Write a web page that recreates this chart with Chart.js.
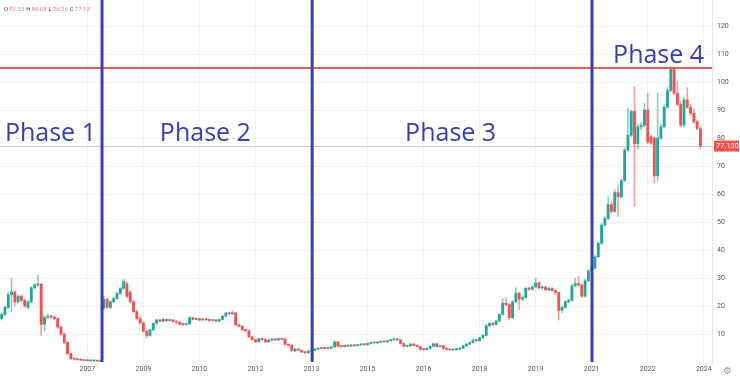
<!DOCTYPE html>
<html>
<head>
<meta charset="utf-8">
<script src="https://cdn.jsdelivr.net/npm/chart.js@4.4.1/dist/chart.umd.min.js"></script>
<style>
  html, body { margin: 0; padding: 0; background: #fff; }
  canvas { display: block; }
</style>
</head>
<body>
<canvas id="priceChart" width="740" height="381"></canvas>
<script>
"use strict";

// monthly candles (index 0 = first candle on the left)
var opens = [
  15.5,17,19.5,24,25,21.5,23.5,22,19.5,21.5,
  26.5,27.5,27.8,13.5,16,16.3,16,15.5,12.5,10,
  7,3,1.2,1,0.9,0.7,0.5,0.5,0.4,0.4,
  0.3,19.2,22.4,19.5,21.5,22.7,24.5,26.3,28,25,
  21.5,18,15.5,14,11,9.5,11.5,13.8,15,14.6,
  15.2,14.8,15,14.5,14.2,13.5,13.4,13.6,15.8,15.2,
  15.5,15,15.3,15.1,14.8,15,14.6,15.2,16.4,17.5,
  17.2,17.6,13.2,12.8,11.5,11.2,9,8,7.2,8.3,
  8,7.2,7.8,8.2,7.9,8.3,8.1,6.3,6,4,
  4.6,4.2,3.6,3.3,3.9,4.2,4.6,4.9,4.8,5.2,
  4.9,5.4,7.2,5.6,5.5,5.9,5.7,6,5.8,6.1,
  6.3,6.2,6.6,6.9,6.8,7.1,7.3,7.2,7.6,7.9,
  8.1,7.9,6.6,5.6,5.8,6.4,5.9,5.5,4.5,4.4,
  4.9,5.6,6.5,5.5,5.8,4.8,4.5,4.3,4.4,4.6,
  4.9,5.8,6.4,6.9,7.8,7.6,8.6,9.5,13,13.8,
  13.4,14.6,17,21,20.5,15.8,21.5,24.5,22.5,23,
  26.3,26,26.8,28.3,26.5,26.8,25.8,26.3,25.5,24.8,
  18.5,19.5,21.5,22,27.2,28,27.5,23.5,29,32.5,
  33.5,37.6,42.4,48.9,51.3,56.2,53.8,60.5,59,64.8,
  75.7,81,89.5,78,84,84.5,90,80.5,80,66.5,
  80,84,91,97,104.5,96,92,84.6,93.6,91,
  88.8,85.8,83.33
];
var closes = [
  17,19.5,24,25,21.5,23.5,22,20,21.5,26.5,
  27.5,27.8,13.5,16,16.3,16,15.5,12.5,10,7,
  3,1.2,1,0.9,0.7,0.5,0.5,0.4,0.4,0.3,
  0.3,22.4,19.5,21.5,22.7,24.5,26.3,28.7,23.5,21.5,
  18,15.5,14,11,9.5,11.5,13.8,15,14.6,15.2,
  14.8,15,14.5,14.2,13.5,13.4,13.6,15.8,15.2,15.5,
  15,15.3,15.1,14.8,15,14.6,15.2,16.4,17.5,17.2,
  17.6,13.2,12.8,11.5,11.2,9,8,7.2,8.3,8,
  7.2,7.8,8.2,7.9,8.3,8.1,6.3,6,4,4.6,
  4.2,3.6,3.3,3.9,4.2,4.6,4.9,4.8,5.2,4.9,
  5.4,7.2,5.6,5.5,5.9,5.7,6,5.8,6.1,6.3,
  6.2,6.6,6.9,6.8,7.1,7.3,7.2,7.6,7.9,8.1,
  7.9,6.6,5.6,5.8,6.4,5.9,5.5,4.5,4.4,4.9,
  5.6,6.5,5.5,5.8,4.8,4.5,4.3,4.4,4.6,4.9,
  5.8,6.4,6.9,7.8,7.6,8.6,9.5,13,13.8,13.4,
  14.6,17,21,20.5,15.8,21.5,24.5,22.5,23,26.3,
  26,26.8,28.3,26.5,26.8,25.8,26.3,25.5,24.8,18.5,
  19.5,21.5,22,27.2,28,27.5,23.5,29,32.5,33.5,
  37.6,42.4,48.9,51.3,56.2,53.8,60.5,59,64.8,75.7,
  81,89.5,78,84,84.5,90,78.5,78.2,66.5,80,
  84,91,97,104.5,96,92,84.6,93.6,91,88.8,
  85.8,83.33,77.13
];
var highs = [
  17.5,20,25,30,25.5,24,24,22.5,22,27,
  28,31,28,16.5,17,16.8,16.5,15.8,12.8,10.3,
  7.2,3.2,1.4,1.2,1,0.8,0.7,0.6,0.5,0.5,
  0.4,23.5,22.8,22,23.2,25,26.8,29.5,28.8,25.5,
  22,18.5,16.2,14.3,11.4,11.8,14,15.4,15.3,15.5,
  15.4,15.3,15.2,14.8,14.4,13.8,13.9,16.2,16,15.8,
  15.7,15.5,15.5,15.3,15.2,15.2,15.4,16.7,17.8,17.8,
  18.2,17.8,13.5,13,11.8,11.4,9.2,8.2,8.6,8.5,
  8.2,8,8.4,8.4,8.6,8.5,8.6,6.5,6.2,4.8,
  4.8,4.3,3.8,4.1,4.4,4.8,5.1,5.1,5.4,5.3,
  5.6,7.5,7.4,5.8,6.1,6,6.2,6.1,6.3,6.5,
  6.5,6.8,7.1,7.1,7.3,7.5,7.5,7.8,8.1,8.4,
  8.4,8,6.8,6,6.7,6.6,6.1,5.7,4.7,5.1,
  5.8,6.8,6.7,6,6,5,4.7,4.6,4.8,5.1,
  6,6.6,7.1,8,8,8.8,9.8,13.4,14.2,14.2,
  15,17.4,22.5,23,21,22,26.5,25,23.6,26.8,
  26.8,27.3,29.9,28.6,27.2,27,26.8,26.6,25.8,25,
  20,22,22.5,27.8,30,30.5,28,29.5,33,34,
  38,43,49.5,52,59,57.5,61.5,63,65.5,76.5,
  90.6,90,98.3,85,85.5,92.5,96,81,80.5,96,
  85,91.8,98,105.5,105,100,93,94.5,98,92,
  90.5,86.5,84.08
];
var lows = [
  15,16.5,19,18,20,21,21.5,19.5,19,21,
  26,27,9.5,11,15.5,15.5,15,12,9.5,6.5,
  2.5,0.8,0.7,0.6,0.5,0.4,0.3,0.3,0.2,0.2,
  0.2,18.5,19,19.2,21.2,22.4,24.2,26,23,21,
  17.5,15,13.5,10.5,8.5,9.2,11.2,13.5,14.2,14.3,
  14.5,14.5,14.2,13.8,13.2,13,13.1,13.4,15,15,
  14.7,14.8,14.8,14.5,14.6,14.4,14.4,15,16.2,17,
  17,13,12.5,11.2,10.8,8.8,7.7,7,7,7.7,
  7,7,7.6,7.7,7.7,7.9,6.1,5.7,3.8,3.7,
  4,3.3,3,3.1,3.7,4,4.4,4.6,4.6,4.7,
  4.7,5.2,5.4,5.3,5.3,5.5,5.5,5.6,5.6,5.9,
  6,6,6.4,6.6,6.6,6.9,7,7,7.4,7.7,
  7.7,6.4,5.3,5.4,5.6,5.7,5.3,4.3,4.2,4.2,
  4.7,5.4,5.3,5.3,4.6,4.3,4.1,4.1,4.2,4.4,
  4.7,5.6,6.2,6.7,7.4,7.4,8.4,9.3,12.6,13,
  13.2,14.4,16.8,20,15,15.5,21.2,18.6,22,22.8,
  25.5,25.7,26.5,26.2,26,25.4,25.5,25.2,24,15,
  17.5,19.2,21,21.8,27,27,23,23.2,28.8,32,
  33.2,37.3,42,48.5,50.8,53,53.5,52,58.5,64.5,
  75.2,80.5,55.5,76,83,84,78,77.5,64,64.5,
  79.5,83.5,90.5,96.5,95.5,91.5,84,84,90.5,88,
  85.3,82.8,76.26
];

// time axis: 216 monthly slots (last three are the empty right margin)
var slotCount = 216;
var tickIndex = [26, 43, 60, 77, 94, 111, 128, 145, 162, 179, 196, 213];
var tickYears = ['2007','2009','2010','2012','2013','2015','2016','2018','2019','2021','2022','2024'];
var priceTicks = [10, 20, 30, 40, 50, 60, 70, 80, 90, 100, 110, 120];

// annotations
var phaseNames = ['Phase 1', 'Phase 2', 'Phase 3', 'Phase 4'];
var phaseLabelAt = [1.0, 48.0, 122.4, 185.5];      // slot index of text start
var phaseLabelPrice = [78.9, 78.9, 78.9, 106.8];   // text baseline
var phaseBounds = [30.45, 94.2, 179.1];            // slot index of the blue lines
var resistance = 105;
var lastPrice = 77.13;
var ohlc = { O: '83.33', H: '84.08', L: '76.26', C: '77.13' };

var UP = '#26a69a', DOWN = '#ef5350';
var UP_WICK = 'rgba(38,166,154,0.55)', DOWN_WICK = 'rgba(239,83,80,0.55)';
var PHASE_BLUE = '#3a3eb0';

var labels = [];
for (var s = 0; s < slotCount; s++) { labels.push(''); }
tickIndex.forEach(function(idx, k) { labels[idx] = tickYears[k]; });

var isUp = closes.map(function(c, i) { return c >= opens[i]; });

/**
 * draws the phase lines, text labels, resistance line and header text
 */
var overlayPlugin = {
    id: 'overlay',
    beforeDatasetsDraw: function(chart) {
        var ctx = chart.ctx, area = chart.chartArea;
        var py = Math.round(chart.scales.y.getPixelForValue(lastPrice)) + 0.5;
        ctx.save();
        ctx.strokeStyle = '#cfcfcf';
        ctx.lineWidth = 1;
        ctx.beginPath();
        ctx.moveTo(area.left, py);
        ctx.lineTo(area.right, py);
        ctx.stroke();
        ctx.restore();
    },
    afterDatasetsDraw: function(chart) {
        var ctx = chart.ctx, area = chart.chartArea;
        var xs = chart.scales.x, ys = chart.scales.y;
        ctx.save();

        // resistance line
        var ry = ys.getPixelForValue(resistance);
        ctx.strokeStyle = '#e35d5d';
        ctx.lineWidth = 2;
        ctx.beginPath();
        ctx.moveTo(area.left, ry);
        ctx.lineTo(area.right, ry);
        ctx.stroke();

        // phase boundaries
        ctx.strokeStyle = PHASE_BLUE;
        ctx.lineWidth = 3;
        phaseBounds.forEach(function(b) {
            var x = xs.getPixelForValue(b);
            ctx.beginPath();
            ctx.moveTo(x, 0);
            ctx.lineTo(x, area.bottom);
            ctx.stroke();
        });

        // phase names
        ctx.fillStyle = PHASE_BLUE;
        ctx.font = '25px "Open Sans", sans-serif';
        ctx.textBaseline = 'alphabetic';
        ctx.textAlign = 'left';
        phaseNames.forEach(function(name, k) {
            ctx.fillText(name, xs.getPixelForValue(phaseLabelAt[k]), ys.getPixelForValue(phaseLabelPrice[k]));
        });

        // last price tag on the axis
        var ly = ys.getPixelForValue(lastPrice);
        ctx.fillStyle = DOWN;
        ctx.fillRect(area.right + 2, ly - 5.5, 25, 11);
        ctx.fillStyle = '#fff';
        ctx.font = '7.5px Roboto, sans-serif';
        ctx.textBaseline = 'middle';
        ctx.fillText(lastPrice.toFixed(3), area.right + 4, ly + 0.5);

        // OHLC header
        var hx = 4;
        ctx.font = '6px Roboto, sans-serif';
        Object.keys(ohlc).forEach(function(key) {
            ctx.fillStyle = '#444';
            ctx.fillText(key, hx, 9);
            hx += ctx.measureText(key).width + 1;
            ctx.fillStyle = '#ee7d7d';
            ctx.fillText(ohlc[key], hx, 9);
            hx += ctx.measureText(ohlc[key]).width + 2;
        });

        // settings gear
        ctx.fillStyle = '#999';
        ctx.font = '10px "DejaVu Sans", sans-serif';
        ctx.fillText('\u2699', 723, 371);
        ctx.restore();
    }
};

var ctx = document.getElementById('priceChart');
var priceChart = new Chart(ctx, {
    type: 'bar',
    data: {
        labels: labels,
        datasets: [
            {
                label: 'body',
                data: opens.map(function(o, i) { return [o, closes[i]]; }),
                backgroundColor: isUp.map(function(u) { return u ? UP : DOWN; }),
                barThickness: 2.2,
                minBarLength: 1,
                grouped: false,
                borderWidth: 0
            },
            {
                label: 'wick',
                data: lows.map(function(l, i) { return [l, highs[i]]; }),
                backgroundColor: isUp.map(function(u) { return u ? UP_WICK : DOWN_WICK; }),
                barThickness: 1,
                grouped: false,
                borderWidth: 0
            }
        ]
    },
    options: {
        responsive: false,
        animation: false,
        layout: { padding: 0 },
        plugins: {
            legend: { display: false },
            tooltip: { enabled: false }
        },
        scales: {
            x: {
                offset: true,
                grid: { color: '#f1f1f1', offset: false, drawTicks: false },
                border: { display: false },
                ticks: {
                    autoSkip: false,
                    maxRotation: 0,
                    padding: 3,
                    color: '#555',
                    font: { family: 'Roboto', size: 7 }
                },
                afterBuildTicks: function(scale) {
                    scale.ticks = tickIndex.map(function(v) { return { value: v }; });
                },
                afterFit: function(scale) {
                    scale.height = 19;
                    scale.paddingLeft = 0;
                    scale.paddingRight = 0;
                }
            },
            y: {
                position: 'right',
                min: 0,
                max: 129.3,
                grid: { color: '#f0f0f0', drawTicks: false },
                border: { color: '#e6e6e6' },
                ticks: {
                    padding: 5,
                    color: '#555',
                    font: { family: 'Roboto', size: 7 }
                },
                afterBuildTicks: function(scale) {
                    scale.ticks = priceTicks.map(function(v) { return { value: v }; });
                },
                afterFit: function(scale) {
                    scale.width = 28;
                    scale.paddingTop = 0;
                    scale.paddingBottom = 0;
                }
            }
        }
    },
    plugins: [overlayPlugin]
});
</script>
</body>
</html>
